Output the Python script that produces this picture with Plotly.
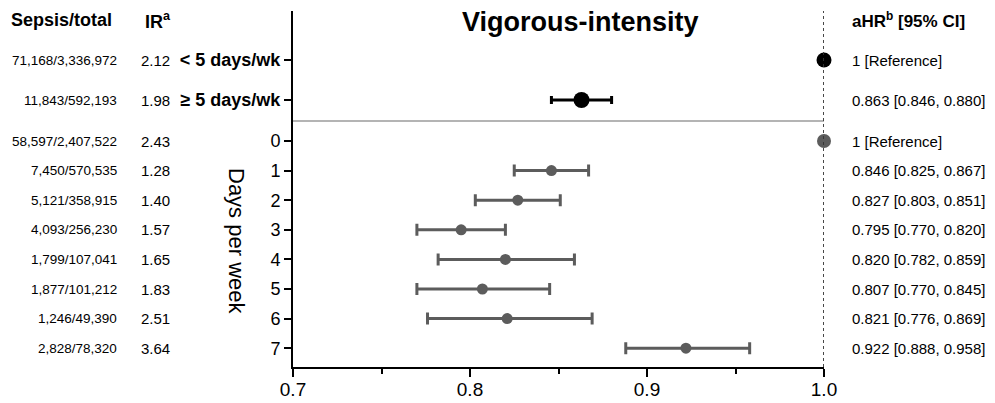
import plotly.graph_objects as go

# ---------------- data ----------------
top_labels = ["< 5 days/wk", "≥ 5 days/wk"]
top_sepsis = ["71,168/3,336,972", "11,843/592,193"]
top_ir = ["2.12", "1.98"]
top_hr = [1.0, 0.863]
top_lo = [None, 0.846]
top_hi = [None, 0.880]
top_txt = ["1 [Reference]", "0.863 [0.846, 0.880]"]

day_labels = ["0", "1", "2", "3", "4", "5", "6", "7"]
day_sepsis = ["58,597/2,407,522", "7,450/570,535", "5,121/358,915", "4,093/256,230",
              "1,799/107,041", "1,877/101,212", "1,246/49,390", "2,828/78,320"]
day_ir = ["2.43", "1.28", "1.40", "1.57", "1.65", "1.83", "2.51", "3.64"]
day_hr = [1.0, 0.846, 0.827, 0.795, 0.820, 0.807, 0.821, 0.922]
day_lo = [None, 0.825, 0.803, 0.770, 0.782, 0.770, 0.776, 0.888]
day_hi = [None, 0.867, 0.851, 0.820, 0.859, 0.845, 0.869, 0.958]
day_txt = ["1 [Reference]", "0.846 [0.825, 0.867]", "0.827 [0.803, 0.851]",
           "0.795 [0.770, 0.820]", "0.820 [0.782, 0.859]", "0.807 [0.770, 0.845]",
           "0.821 [0.776, 0.869]", "0.922 [0.888, 0.958]"]

x_ticks = [0.7, 0.8, 0.9, 1.0]
x_tick_text = ["0.7", "0.8", "0.9", "1.0"]
x_minor = [0.75, 0.85, 0.95]

# ---------------- layout geometry ----------------
# page body has an 8px margin; work in window pixel coords and subtract it
OFF = 8
W, H = 995 - OFF, 403 - OFF
PLOT_L, PLOT_R, PLOT_T, PLOT_B = 293, 824, 11, 367   # window pixel coords
L, R, T, B = PLOT_L - OFF, W - (PLOT_R - OFF), PLOT_T - OFF, H - (PLOT_B - OFF)
PW = W - L - R
top_pos = [60, 100]
day_pos = [141 + 29.6 * i for i in range(len(day_labels))]
sep_pos = 121

FONT = "Liberation Sans, Arial, sans-serif"
BLACK = "#000000"
GREY = "#5c5c5c"


def px(xpix):
    return (xpix - PLOT_L) / PW


fig = go.Figure()

# reference points (no CI)
fig.add_trace(go.Scatter(x=[top_hr[0]], y=[top_pos[0]], mode="markers",
                         marker=dict(color=BLACK, size=15), cliponaxis=False, showlegend=False))
fig.add_trace(go.Scatter(x=[day_hr[0]], y=[day_pos[0]], mode="markers",
                         marker=dict(color=GREY, size=14), cliponaxis=False, showlegend=False))

# top group with CI
fig.add_trace(go.Scatter(
    x=top_hr[1:], y=top_pos[1:], mode="markers",
    marker=dict(color=BLACK, size=16),
    error_x=dict(type="data", symmetric=False,
                 array=[h - m for h, m in zip(top_hi[1:], top_hr[1:])],
                 arrayminus=[m - l for l, m in zip(top_lo[1:], top_hr[1:])],
                 color=BLACK, thickness=3, width=4),
    cliponaxis=False, showlegend=False))

# days group with CI
fig.add_trace(go.Scatter(
    x=day_hr[1:], y=day_pos[1:], mode="markers",
    marker=dict(color=GREY, size=11),
    error_x=dict(type="data", symmetric=False,
                 array=[h - m for h, m in zip(day_hi[1:], day_hr[1:])],
                 arrayminus=[m - l for l, m in zip(day_lo[1:], day_hr[1:])],
                 color=GREY, thickness=3, width=6),
    cliponaxis=False, showlegend=False))

ann = []
# headers
ann.append(dict(x=px(9), y=20, text="<b>Sepsis/total</b>", xanchor="left",
                font=dict(size=18, color=BLACK)))
ann.append(dict(x=px(143), y=20, text="<b>IR<sup>a</sup></b>", xanchor="left",
                font=dict(size=18, color=BLACK)))
ann.append(dict(x=px(850), y=20, text="<b>aHR<sup>b</sup> [95% CI]</b>", xanchor="left",
                font=dict(size=17, color=BLACK)))
ann.append(dict(x=px(580), y=22, text="<b>Vigorous-intensity</b>", xanchor="center",
                font=dict(size=27, color=BLACK)))
ann.append(dict(x=px(237), y=241, text="Days per week", textangle=90, xanchor="center",
                font=dict(size=22, color=BLACK)))

for s, ir, t, y in zip(top_sepsis + day_sepsis, top_ir + day_ir, top_txt + day_txt,
                       top_pos + day_pos):
    ann.append(dict(x=px(119), y=y, text=s, xanchor="right", font=dict(size=13.5, color=BLACK)))
    ann.append(dict(x=px(139), y=y, text=ir, xanchor="left", font=dict(size=15, color=BLACK)))
    ann.append(dict(x=px(850), y=y, text=t, xanchor="left", font=dict(size=15, color=BLACK)))

for a in ann:
    a.update(xref="paper", yref="y", yanchor="middle", showarrow=False)

fig.update_layout(
    width=W, height=H,
    margin=dict(l=L, r=R, t=T, b=B, autoexpand=False),
    plot_bgcolor="white", paper_bgcolor="white",
    font=dict(family=FONT, color=BLACK),
    annotations=ann,
    shapes=[
        dict(type="line", xref="x", yref="y", x0=0.7, x1=1.0, y0=sep_pos, y1=sep_pos,
             line=dict(color="#6a6a6a", width=1.2)),
        dict(type="line", xref="x", yref="paper", x0=1.0, x1=1.0, y0=0, y1=1,
             line=dict(color="#333333", width=1.8, dash="dot")),
    ],
)

fig.update_xaxes(range=[0.7, 1.0], tickvals=x_ticks, ticktext=x_tick_text,
                 showgrid=False, zeroline=False, showline=True, linecolor=BLACK, linewidth=2,
                 ticks="outside", ticklen=8, tickwidth=2, tickcolor=BLACK,
                 tickfont=dict(size=19, color=BLACK), ticklabelstandoff=-4,
                 minor=dict(tickvals=x_minor, ticks="outside", ticklen=5, tickwidth=2,
                            tickcolor=BLACK, showgrid=False))

fig.update_yaxes(range=[PLOT_B, PLOT_T], tickvals=top_pos + day_pos,
                 ticktext=["<b>" + t + "</b>" for t in top_labels] + day_labels,
                 showgrid=False, zeroline=False, showline=True, linecolor=BLACK, linewidth=2,
                 ticks="outside", ticklen=7, tickwidth=2, tickcolor=BLACK,
                 tickfont=dict(size=18, color=BLACK))

fig.write_html("out.html")
